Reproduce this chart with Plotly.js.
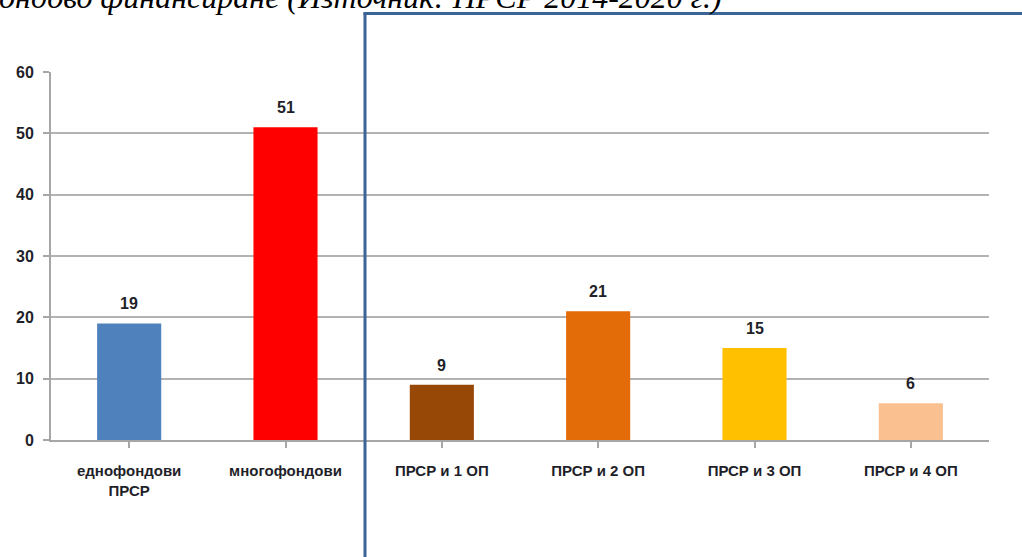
<!DOCTYPE html>
<html>
<head>
<meta charset="utf-8">
<script src="https://cdn.plot.ly/plotly-3.0.1.min.js"></script>
<style>html,body{margin:0;padding:0;background:#fff;}#chart{width:1022px;height:557px;}</style>
</head>
<body>
<div id="chart"></div>
<script>
const categories = ["еднофондови<br>ПРСР", "многофондови", "ПРСР и 1 ОП", "ПРСР и 2 ОП", "ПРСР и 3 ОП", "ПРСР и 4 ОП"];
const values = [19, 51, 9, 21, 15, 6];
const barColors = ["#4f81bd", "#ff0000", "#974706", "#e36c09", "#ffc000", "#fac090"];
const yTicks = [0, 10, 20, 30, 40, 50, 60];
const titleText = "многофондово финансиране (Източник: ПРСР 2014-2020 г.)";

const W = 1022, H = 557;
const m = {l: 51, r: 33, t: 71.5, b: 117};
const pw = W - m.l - m.r, ph = H - m.t - m.b;
const px = x => (x - m.l) / pw;
const py = y => (H - m.b - y) / ph;

const fam = "Liberation Sans, Arial, sans-serif";
const labelFont = {family: fam, size: 15, color: "#1f1f2a", weight: "bold"};
const numFont = {family: fam, size: 16, color: "#1f1f2a", weight: "bold"};

const annotations = values.map((v, i) => ({
  x: i, y: v, xref: "x", yref: "y", text: "<b>" + v + "</b>", showarrow: false,
  yanchor: "bottom", yshift: 9, font: numFont
}));
annotations.push({
  xref: "paper", yref: "paper", x: px(724), y: py(-4), xanchor: "right", yanchor: "middle",
  text: "<i>" + titleText + "</i>", showarrow: false,
  font: {family: "Liberation Serif, Times New Roman, serif", size: 32, color: "#000"}
});

const data = [{
  type: "bar", x: categories.map((c, i) => i), y: values,
  marker: {color: barColors}, hoverinfo: "skip", cliponaxis: false
}];

const layout = {
  width: W, height: H, margin: m, paper_bgcolor: "#fff", plot_bgcolor: "#fff",
  showlegend: false, bargap: 0.59,
  xaxis: {
    range: [-0.5, 5.5], tickvals: [0,1,2,3,4,5], ticktext: categories,
    showgrid: false, showline: true, linecolor: "#a6a6a6", linewidth: 2,
    ticks: "outside", tickson: "boundaries", ticklen: 6, tickcolor: "#a6a6a6", tickwidth: 2,
    tickfont: labelFont, ticklabelstandoff: 10, zeroline: false, fixedrange: true
  },
  yaxis: {
    range: [0, 60], tickvals: yTicks, showgrid: true, gridcolor: "#b3b3b3", gridwidth: 2,
    showline: true, linecolor: "#a6a6a6", linewidth: 2, ticks: "outside", ticklen: 6,
    tickcolor: "#a6a6a6", tickwidth: 2, tickfont: numFont, ticklabelstandoff: 6,
    zeroline: false, fixedrange: true
  },
  annotations: annotations,
  shapes: [
    {type: "line", xref: "paper", yref: "paper", x0: px(365), x1: px(365), y0: py(12), y1: py(560),
     line: {color: "#3c6494", width: 3}},
    {type: "line", xref: "paper", yref: "paper", x0: px(363.5), x1: px(1025), y0: py(13), y1: py(13),
     line: {color: "#3c6494", width: 3}}
  ]
};

Plotly.newPlot("chart", data, layout, {displayModeBar: false, staticPlot: true});
</script>
</body>
</html>
